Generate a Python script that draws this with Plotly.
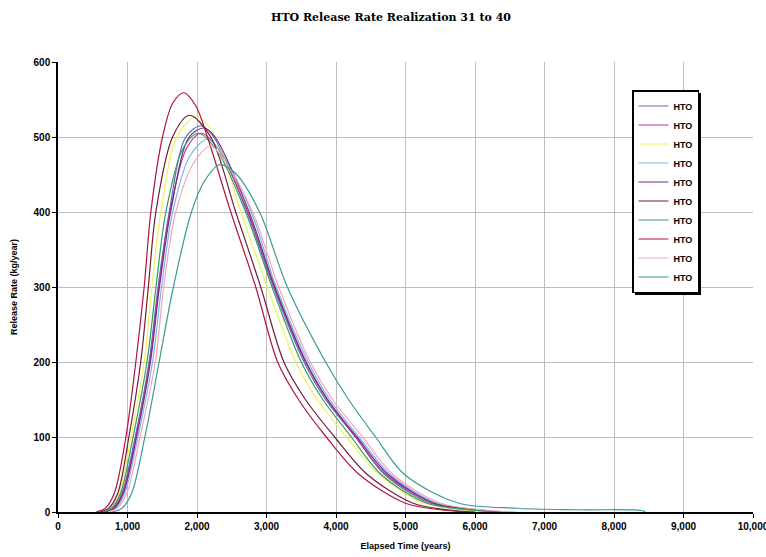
import plotly.graph_objects as go

title_text = "HTO Release Rate Realization 31 to 40"
x_title = "Elapsed Time (years)"
y_title = "Release Rate (kg/year)"
series_names = ["HTO"] * 10
colors = ["#5B6FAF", "#C2338F", "#F2F25A", "#7FB2E5", "#6B2D8F",
          "#6B1F3A", "#2E9E5E", "#B5123E", "#F2A7B8", "#3A9A96"]

x1 = [660, 790, 920, 1110, 1310, 1440, 1600, 1839, 2060, 2240, 2720, 3100, 3540, 3850, 4280, 4700, 5350, 5950, 6400]
y1 = [0, 5, 25, 100, 200, 300, 400, 500, 515, 500, 400, 300, 200, 150, 100, 50, 12, 3, 0]

x2 = [670, 800, 930, 1120, 1320, 1450, 1610, 1850, 2060, 2300, 2730, 3110, 3560, 3870, 4280, 4720, 5400, 6000, 6400]
y2 = [0, 5, 25, 100, 200, 300, 400, 485, 505, 485, 400, 300, 200, 150, 100, 50, 12, 3, 0]

x3 = [620, 750, 880, 1050, 1240, 1350, 1480, 1710, 1990, 2270, 2630, 3013, 3420, 3730, 4150, 4620, 5250, 5800, 6200]
y3 = [0, 5, 25, 100, 200, 300, 400, 500, 527, 500, 400, 300, 200, 150, 100, 50, 12, 3, 0]

x4 = [700, 830, 960, 1150, 1360, 1490, 1650, 1900, 2150, 2380, 2780, 3140, 3600, 3910, 4330, 4780, 5450, 6050, 6500]
y4 = [0, 5, 25, 100, 200, 300, 400, 475, 497, 475, 400, 300, 200, 150, 100, 50, 12, 3, 0]

x5 = [680, 810, 940, 1130, 1330, 1460, 1620, 1887, 2100, 2260, 2750, 3120, 3570, 3880, 4300, 4750, 5400, 6000, 6400]
y5 = [0, 5, 25, 100, 200, 300, 400, 500, 512, 500, 400, 300, 200, 150, 100, 50, 12, 3, 0]

x6 = [600, 730, 860, 1020, 1190, 1300, 1408, 1648, 1890, 2198, 2557, 2917, 3250, 3560, 3980, 4450, 5100, 5600, 6000]
y6 = [0, 5, 25, 100, 200, 300, 400, 500, 529, 500, 400, 300, 200, 150, 100, 50, 12, 3, 0]

x7 = [640, 770, 900, 1080, 1280, 1410, 1552, 1800, 2020, 2300, 2700, 3080, 3500, 3810, 4220, 4650, 5300, 5900, 6300]
y7 = [0, 5, 25, 100, 200, 300, 400, 485, 505, 480, 400, 300, 200, 150, 100, 50, 12, 3, 0]

x8 = [550, 680, 810, 977, 1120, 1240, 1336, 1504, 1650, 1810, 1980, 2150, 2486, 2845, 3160, 3460, 3860, 4335, 4990, 5500, 5900]
y8 = [0, 5, 25, 100, 200, 300, 400, 500, 545, 559, 542, 500, 400, 300, 200, 150, 100, 50, 12, 3, 0]

x9 = [720, 850, 990, 1180, 1400, 1520, 1695, 1950, 2200, 2420, 2800, 3175, 3630, 3950, 4380, 4820, 5500, 6100, 6600]
y9 = [0, 5, 25, 100, 200, 300, 400, 465, 488, 465, 400, 300, 200, 150, 100, 50, 12, 3, 0]

x10 = [780, 920, 1060, 1250, 1455, 1660, 1920, 2100, 2320, 2550, 2900, 3300, 3850, 4180, 4570, 4985, 5760, 6600, 7500, 8400, 8450]
y10 = [0, 5, 25, 100, 200, 300, 400, 440, 463, 452, 400, 300, 200, 150, 100, 50, 12, 5, 3, 2, 0]

xs = [x1, x2, x3, x4, x5, x6, x7, x8, x9, x10]
ys = [y1, y2, y3, y4, y5, y6, y7, y8, y9, y10]

x_ticks = [0, 1000, 2000, 3000, 4000, 5000, 6000, 7000, 8000, 9000, 10000]
y_ticks = [0, 100, 200, 300, 400, 500, 600]

fig = go.Figure()
for name, xv, yv, c in zip(series_names, xs, ys, colors):
    fig.add_trace(go.Scatter(x=xv, y=yv, mode="lines", name=name,
                             line=dict(color=c, width=1.2, shape="spline", smoothing=0.9)))

tick_font = dict(family="Liberation Sans, Arial", size=10, color="black", weight="bold")
title_font = dict(family="Liberation Sans, Arial", size=9, color="black", weight="bold")

# plot area: x 58..753 px, y 62..512 px
PW, PH = 695.0, 450.0
leg_left, leg_top = 632, 90
leg_x = (leg_left - 58) / PW
leg_y = (512 - leg_top) / PH
# drop shadow behind the legend box
fig.add_shape(type="rect", xref="paper", yref="paper",
              x0=(leg_left + 3 - 58) / PW, x1=(leg_left + 69 - 58) / PW,
              y0=(512 - (leg_top + 205)) / PH, y1=(512 - (leg_top + 3)) / PH,
              fillcolor="black", line=dict(width=0), layer="above")

fig.update_layout(
    width=766, height=557,
    margin=dict(l=58, r=13, t=62, b=45, autoexpand=False),
    paper_bgcolor="white", plot_bgcolor="white",
    title=dict(text=title_text, x=(391 - 58) / PW, xanchor="center", xref="paper",
               y=1 - 17 / 557, yref="container", yanchor="middle",
               font=dict(family="DejaVu Serif", size=11, color="black", weight="bold")),
    xaxis=dict(range=[0, 10000], tickvals=x_ticks, tickformat=",", showgrid=True,
               gridcolor="#BDBDBD", gridwidth=1, showline=True, linecolor="black", linewidth=1.5,
               ticks="outside", ticklen=4, tickcolor="black", tickfont=tick_font, zeroline=False,
               automargin=False, ticklabeloverflow="allow",
               title=dict(text=x_title, font=title_font, standoff=12)),
    yaxis=dict(range=[0, 600], tickvals=y_ticks, showgrid=True,
               gridcolor="#BDBDBD", gridwidth=1, showline=True, linecolor="black", linewidth=1.5,
               ticks="outside", ticklen=4, tickcolor="black", tickfont=tick_font, zeroline=False,
               automargin=False,
               title=dict(text=y_title, font=title_font, standoff=14)),
    legend=dict(x=leg_x, y=leg_y, xanchor="left", yanchor="top",
                bgcolor="white", bordercolor="black", borderwidth=1.5,
                font=dict(family="Liberation Sans, Arial", size=9, color="black", weight="bold"),
                itemwidth=30, tracegroupgap=0),
    showlegend=True,
)

fig.write_html("out.html", config={"displayModeBar": False},
               post_script="document.body.style.margin='0';")
